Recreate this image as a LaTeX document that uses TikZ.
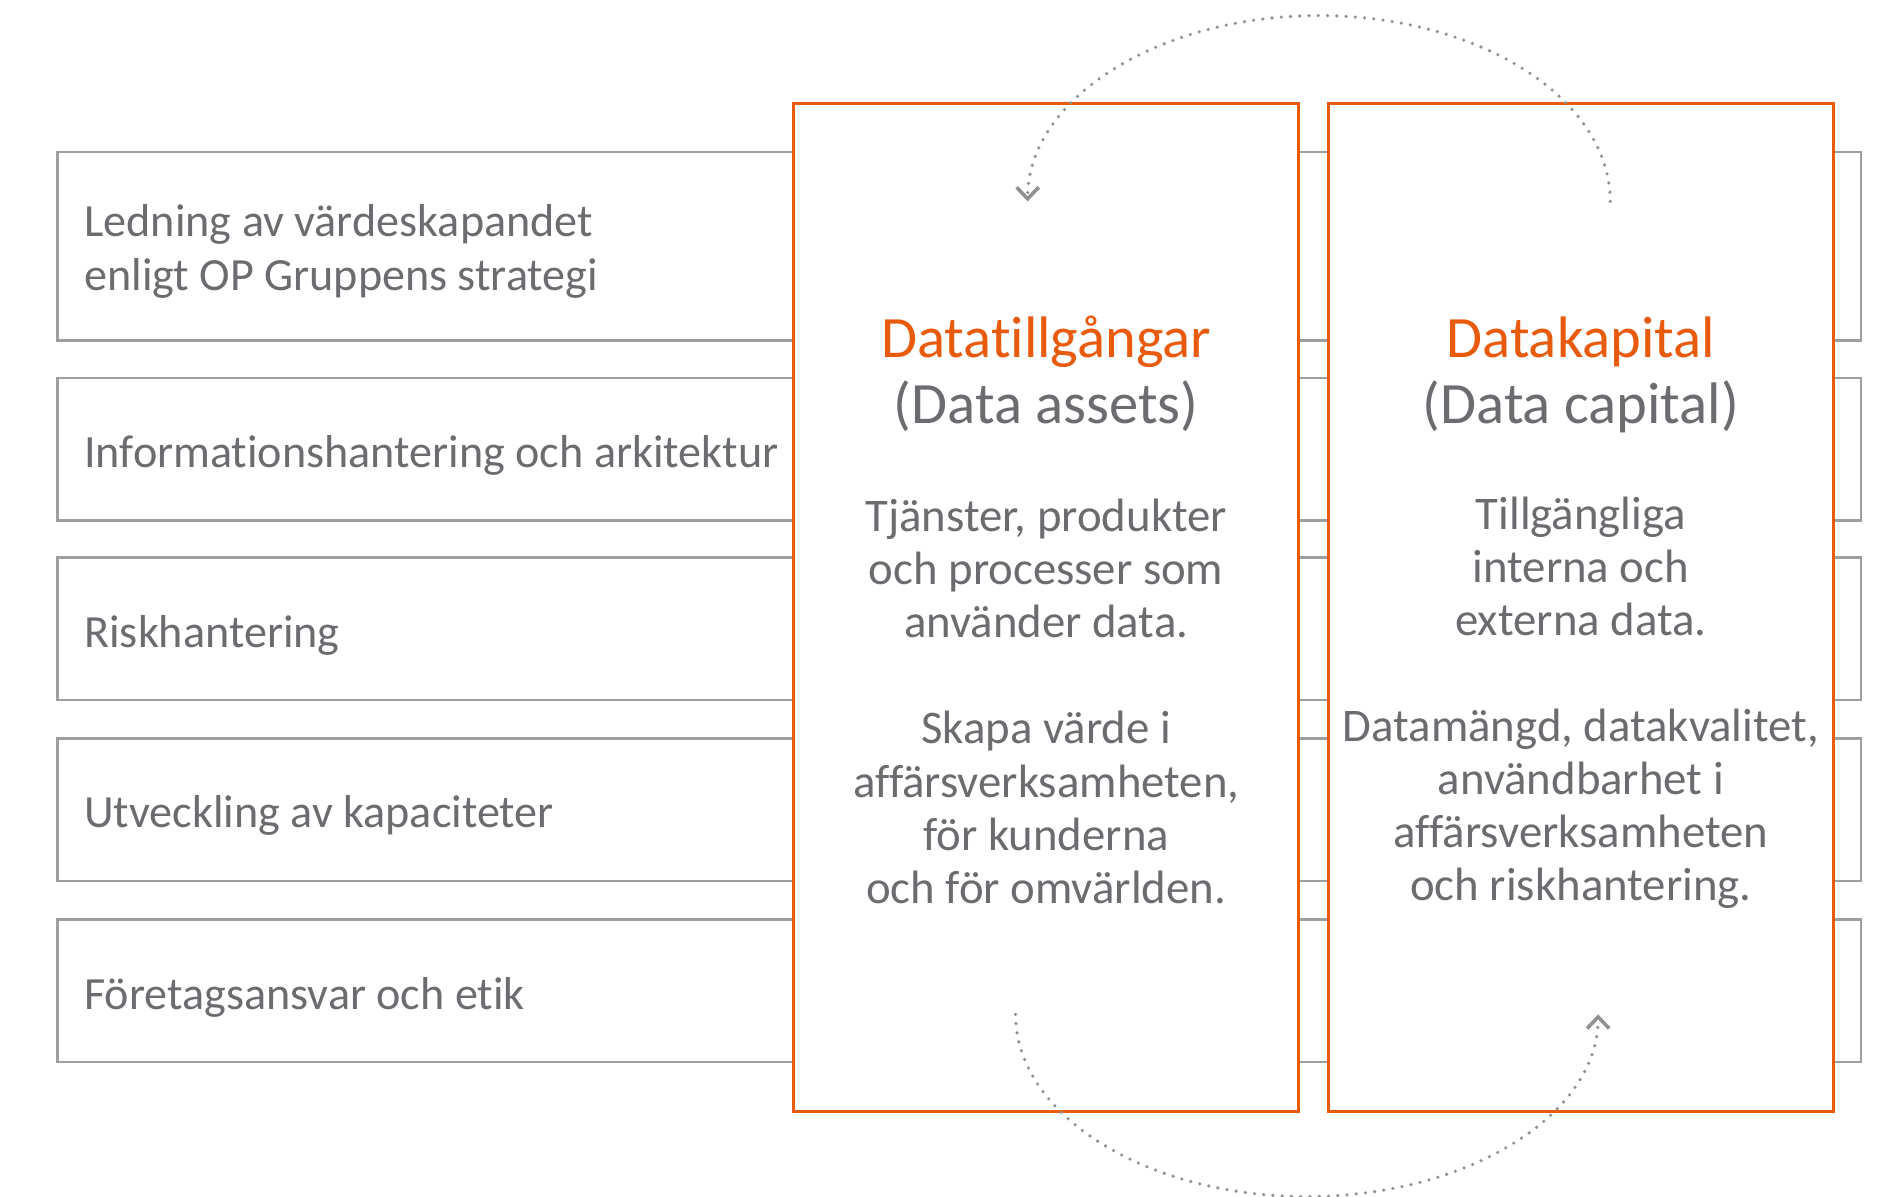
\documentclass[tikz,border=0pt]{standalone}
\usepackage{fontspec}
\setmainfont{Carlito}[Ligatures=NoCommon]
\usetikzlibrary{arrows.meta,positioning}
\definecolor{opOrange}{RGB}{232,90,12}
\definecolor{txtGray}{RGB}{108,108,112}
\definecolor{lineGray}{RGB}{158,158,158}
\definecolor{dotGray}{RGB}{145,145,145}

\begin{document}
\begin{tikzpicture}[x=0.02cm, y=0.02cm,
  rowbox/.style={draw=lineGray, line width=1.1pt},
  panel/.style={draw=opOrange, fill=white, line width=1.4pt},
  rowtext/.style={anchor=west, inner sep=0pt, align=left, text=txtGray, font=\fontsize{21.9}{25.5}\selectfont},
  paneltitle/.style={inner sep=0pt, text=opOrange, font=\fontsize{27.8}{31}\selectfont, text height=20.5pt, text depth=7pt},
  panelsub/.style={paneltitle, text=txtGray},
  paneltext/.style={inner sep=0pt, align=center, text=txtGray, font=\fontsize{22.2}{25.2}\selectfont},
  loopline/.style={draw=dotGray, line width=1.7pt, line cap=round, dash pattern=on 0pt off 4.4pt, -{Straight Barb[length=5.5pt, width=10.5pt]}}
]
\useasboundingbox (0,0) rectangle (1568,998);

% rows behind the two panels
\draw[rowbox] (48,714) rectangle (1552,871);
\draw[rowbox] (48,564) rectangle (1552,683);
\draw[rowbox] (48,414) rectangle (1552,533);
\draw[rowbox] (48,263) rectangle (1552,382);
\draw[rowbox] (48,112) rectangle (1552,231);

% panels
\draw[panel] (662,71) rectangle (1083,912);
\draw[panel] (1108,71) rectangle (1529,912);

\node[rowtext] (lead) at (70,788) {Ledning av värdeskapandet\\enligt OP Gruppens strategi};
\node[rowtext] (info) at (70,618) {Informationshantering och arkitektur};
\node[rowtext] (risk) at (70,468) {Riskhantering};
\node[rowtext] (kapa) at (70,318) {Utveckling av kapaciteter};
\node[rowtext] (etik) at (70,166) {Företagsansvar och etik};

\node[paneltitle] (assets) at (872.5,712) {Datatillgångar};
\node[panelsub, below=3.7pt of assets] (assetsen) {(Data assets)};
\node[paneltext] (assetstxt) at (872.5,413) {Tjänster, produkter\\och processer som\\använder data.\\[25.2pt]Skapa värde i\\affärsverksamheten,\\för kunderna\\och för omvärlden.};

\node[paneltitle] (capital) at (1318.5,712) {Datakapital};
\node[panelsub, below=3.7pt of capital] (capitalen) {(Data capital)};
\node[paneltext] (capitaltxt) at (1318.5,412) {Tillgängliga\\interna och\\externa data.\\[25.2pt]Datamängd, datakvalitet,\\användbarhet i\\affärsverksamheten\\och riskhantering.};

% dotted cycle
\coordinate (topstart) at (1343,830);
\coordinate (botstart) at (847,152);
\draw[loopline] (topstart) arc[start angle=0, end angle=180, x radius=4.86cm, y radius=3.1cm];
\draw[loopline] (botstart) arc[start angle=180, end angle=360, x radius=4.86cm, y radius=3.04cm];
\end{tikzpicture}
\end{document}
